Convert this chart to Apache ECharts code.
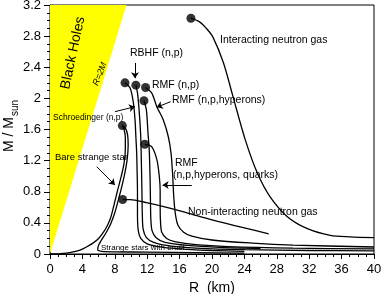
<!DOCTYPE html>
<html><head><meta charset="utf-8">
<script src="https://cdn.jsdelivr.net/npm/echarts@6/dist/echarts.min.js"></script>
<style>html,body{margin:0;padding:0;background:#fff}#c{width:382px;height:294px}</style>
</head><body><div id="c"></div>
<script>
// ---- data (R in km, M in solar masses) ----
const xTicks = [0,4,8,12,16,20,24,28,32,36,40];
const yTicks = [0,0.4,0.8,1.2,1.6,2,2.4,2.8,3.2];
const blackHoleBoundary = [[0,0],[9.45,3.2]]; // R = 2M
const interactingGas = [[17.4,3.03],[18.5,2.98],[19.3,2.9],[20.1,2.79],[21.4,2.46],[22.6,2.02],[24.1,1.47],[25.6,1.04],[27.2,0.73],[29.3,0.48],[31.7,0.33],[34.6,0.24],[37,0.22],[40,0.21]];
const nonInteractingGas = [[8.97,0.70],[9.9,0.70],[11.9,0.66],[14.4,0.60],[16.9,0.53],[20,0.44],[24,0.335],[27,0.26]];
const bareStrange = [[0,0],[1,0.002],[2,0.01],[3,0.03],[3.7,0.05],[4.5,0.09],[5.3,0.14],[6.0,0.2],[6.6,0.28],[7.1,0.37],[7.5,0.47],[7.9,0.63],[8.3,0.8],[8.8,1.0],[9.15,1.17],[9.3,1.35],[9.3,1.5],[9.15,1.6],[8.93,1.65]];
const crustStrange = [[24,0.012],[18,0.018],[12,0.024],[8,0.028],[6.4,0.034],[5.9,0.05],[5.95,0.1],[6.3,0.17],[6.9,0.27],[7.5,0.39],[8.0,0.53],[8.4,0.68],[8.8,0.84],[9.22,1.03],[9.52,1.21],[9.65,1.4],[9.58,1.53],[9.3,1.62],[8.93,1.65]];
const schroedinger = [[9.26,2.20],[9.9,2.13],[10.3,1.94],[10.5,1.72],[10.6,1.51],[10.7,1.3],[10.75,1.08],[10.8,0.8],[10.8,0.5],[10.9,0.3],[11.2,0.2],[12,0.13],[14,0.085],[17,0.06],[20,0.045],[24,0.035]];
const rbhf = [[10.6,2.17],[10.8,2.07],[11.0,1.85],[11.2,1.51],[11.3,1.08],[11.35,0.8],[11.4,0.5],[11.5,0.32],[11.9,0.21],[12.8,0.15],[15,0.1],[18,0.075],[24,0.055],[32,0.045],[40,0.04]];
const rmfHyperons = [[11.6,1.97],[11.9,1.85],[12.1,1.55],[12.25,1.34],[12.35,1.0],[12.4,0.7],[12.45,0.45],[12.6,0.3],[13.1,0.21],[14.2,0.15],[17,0.11],[21,0.085],[26,0.07]];
const rmfQuarks = [[11.7,1.41],[12.55,1.38],[13.2,1.21],[13.5,0.99],[13.6,0.82],[13.6,0.6],[13.65,0.4],[13.8,0.28],[14.4,0.2],[15.4,0.16],[18,0.12],[22,0.095],[30,0.075],[40,0.065]];
const rmfNP = [[11.8,2.14],[12.55,2.07],[13.2,1.89],[14.0,1.72],[14.6,1.51],[14.95,1.29],[15.15,1.0],[15.3,0.7],[15.5,0.5],[15.8,0.37],[16.5,0.28],[17.5,0.23],[20,0.18],[25,0.14],[30,0.115],[40,0.09]];
const maxMassDots = [[17.4,3.03],[9.26,2.20],[10.6,2.17],[11.8,2.14],[11.6,1.97],[11.7,1.41],[8.93,1.65],[8.97,0.70]];
const arrows = [
  [[10.49,2.455],[10.49,2.26]],
  [[14.9,1.958],[13.17,1.886]],
  [[8.02,1.829],[10.49,1.893]],
  [[5.77,1.122],[8.02,0.887]],
  [[17.5,0.887],[13.9,0.887]]
];
const curves = [interactingGas, nonInteractingGas, bareStrange, crustStrange, schroedinger, rbhf, rmfHyperons, rmfQuarks, rmfNP];

const FONT = "'Liberation Sans', Arial, Helvetica, sans-serif";
const chart = echarts.init(document.getElementById('c'), null, {renderer:'canvas'});
const lineSeries = curves.map(c => ({
  type:'line', data:c, showSymbol:false, smooth:0.3, z:3,
  lineStyle:{color:'#000', width:1.3}, silent:true
}));
function txt(text, x, y, size, extra) {
  return Object.assign({type:'text', x:x, y:y, z:100, style:{text:text, fill:'#000', font: size+'px '+FONT, textAlign:'left', textVerticalAlign:'middle'}}, extra||{});
}
chart.setOption({
  animation:false,
  backgroundColor:'#fff',
  grid:{left:50, right:8, top:5, bottom:40, containLabel:false, outerBoundsMode:'none', show:true, borderColor:'#000', borderWidth:1, backgroundColor:'transparent'},
  xAxis:{type:'value', min:0, max:40, interval:4,
    name:'R  (km)', nameLocation:'middle', nameGap:22, nameTextStyle:{fontSize:14, color:'#000', fontFamily:FONT},
    axisLine:{show:true, onZero:false, lineStyle:{color:'#000', width:1}},
    axisTick:{show:true, inside:false, length:5, lineStyle:{color:'#000'}},
    minorTick:{show:true, splitNumber:4, length:3, lineStyle:{color:'#000'}},
    axisLabel:{fontSize:13, color:'#000', margin:9, fontFamily:FONT},
    splitLine:{show:false}},
  yAxis:{type:'value', min:0, max:3.2, interval:0.4,
    axisLine:{show:true, onZero:false, lineStyle:{color:'#000', width:1}},
    axisTick:{show:true, inside:false, length:6, lineStyle:{color:'#000'}},
    minorTick:{show:true, splitNumber:4, length:3, lineStyle:{color:'#000'}},
    axisLabel:{fontSize:13, color:'#000', margin:9, fontFamily:FONT, formatter: v => String(Math.round(v*10)/10)},
    splitLine:{show:false}},
  series:[
    {type:'custom', z:1, silent:true, data:[0], renderItem:(params, api) => {
      const p0 = api.coord(blackHoleBoundary[0]);
      const p1 = api.coord(blackHoleBoundary[1]);
      const p2 = api.coord([blackHoleBoundary[0][0], blackHoleBoundary[1][1]]);
      return {type:'polygon', shape:{points:[p0,p1,p2]}, style:{fill:'#ffff00', stroke:null}};
    }},
    ...lineSeries,
    {type:'scatter', data:maxMassDots, symbol:'circle', symbolSize:9, itemStyle:{color:'#000'}, z:5, silent:true},
    {type:'lines', coordinateSystem:'cartesian2d', z:6, silent:true,
      symbol:['none','arrow'], symbolSize:6,
      lineStyle:{color:'#000', width:1, opacity:1},
      data: arrows.map(a => ({coords:a}))}
  ],
  graphic:[
    {type:'text', x:11, y:126, rotation:Math.PI/2, z:100, style:{text:'{m|M / M}{s|sun}', textAlign:'center', textVerticalAlign:'middle',
      rich:{m:{fontSize:14, fontFamily:FONT, fill:'#000', color:'#000', verticalAlign:'top', lineHeight:18}, s:{fontSize:10, fontFamily:FONT, fill:'#000', color:'#000', verticalAlign:'bottom', lineHeight:18, padding:[0,0,0,1]}}}},
    txt('Interacting neutron gas', 220, 40, 10.5),
    txt('RBHF (n,p)', 130, 53, 10.5),
    txt('RMF (n,p)', 152, 85, 10.5),
    txt('RMF (n,p,hyperons)', 172, 100, 10.5),
    txt('Schroedinger (n,p)', 53, 118, 8.5),
    txt('Bare strange star', 55, 157, 9.5),
    txt('RMF', 175, 163, 10.5),
    txt('(n,p,hyperons, quarks)', 173, 175, 10.5),
    txt('Non-interacting neutron gas', 188, 212, 10.5),
    txt('Strange stars with crust', 101, 248, 8),
    {type:'text', x:73, y:53, rotation:78*Math.PI/180, z:100, style:{text:'Black Holes', fill:'#000', font:'14px '+FONT, textAlign:'center', textVerticalAlign:'middle'}},
    {type:'text', x:100, y:74, rotation:68*Math.PI/180, z:100, style:{text:'R=2M', fill:'#000', font:'italic 9px '+FONT, textAlign:'center', textVerticalAlign:'middle'}}
  ]
});
</script></body></html>
